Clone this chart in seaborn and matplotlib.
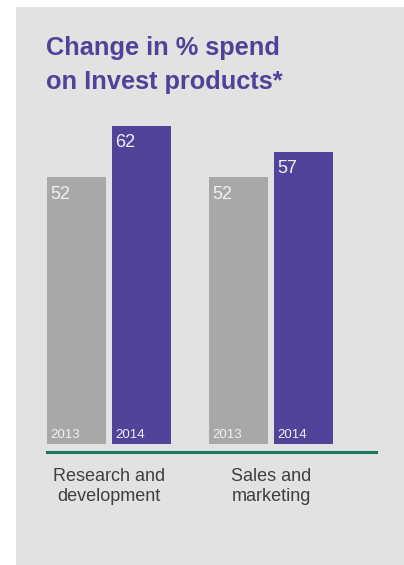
import matplotlib
matplotlib.use("Agg")
import matplotlib.pyplot as plt
import seaborn as sns
import pandas as pd
from matplotlib.patches import Rectangle

categories = ["Research and\ndevelopment", "Sales and\nmarketing"]
years = ["2013", "2014"]
values_2013 = [52, 52]
values_2014 = [62, 57]

df = pd.DataFrame({
    "category": categories * 2,
    "year": [years[0]] * 2 + [years[1]] * 2,
    "value": values_2013 + values_2014,
})

sns.set_theme(style="white")
plt.rcParams["font.family"] = ["Liberation Sans", "DejaVu Sans"]

W, H = 404, 565
fig = plt.figure(figsize=(W / 100, H / 100), dpi=100)
fig.patch.set_facecolor("white")

bg = "#e3e1e2"
fig.add_artist(Rectangle((16 / W, 0), (W - 16) / W, (H - 7) / H,
                         transform=fig.transFigure, facecolor=bg,
                         edgecolor="none", zorder=0))

# axes: x from 47px to 376px, y from 100px to 452px
ax = fig.add_axes([47 / W, (H - 452) / H, (376 - 47) / W, (452 - 100) / H])
ax.set_facecolor("none")

gray = "#a9a8a8"
purple = "#51439a"
sns.barplot(data=df, x="category", y="value", hue="year",
            palette={"2013": gray, "2014": purple}, width=0.8025, gap=0.0923,
            saturation=1, linewidth=0, edgecolor="none", ax=ax, legend=False)

ppu = 5.13
ax.set_xlim(-0.383, 1.648)
ax.set_ylim(-8 / ppu, (444 - 100) / ppu)

for s in ["top", "left", "right"]:
    ax.spines[s].set_visible(False)
ax.spines["bottom"].set_color("#16785f")
ax.spines["bottom"].set_linewidth(2.2)
ax.set_yticks([])
ax.set_xlabel("")
ax.set_ylabel("")
ax.tick_params(axis="x", length=0, pad=11.5, labelsize=13, labelcolor="#3f3f3f")
for lbl in ax.get_xticklabels():
    lbl.set_multialignment("center")

# labels inside bars
for cont, yr in zip(ax.containers, years):
    for bar in cont:
        x0 = bar.get_x()
        h = bar.get_height()
        ax.annotate(f"{h:.0f}", (x0, h), xytext=(2.5, -6), textcoords="offset points",
                    ha="left", va="top", fontsize=13, color="#f2f0f5")
        ax.annotate(yr, (x0, 0), xytext=(2.5, 2.5), textcoords="offset points",
                    ha="left", va="bottom", fontsize=9.5, color="#f2f0f5")

fig.text(46 / W, 1 - 36 / H, "Change in % spend\non Invest products*",
         ha="left", va="top", fontsize=18.3, fontweight="bold",
         color="#4e4299", linespacing=1.52)

fig.savefig("out.png", dpi=100)
